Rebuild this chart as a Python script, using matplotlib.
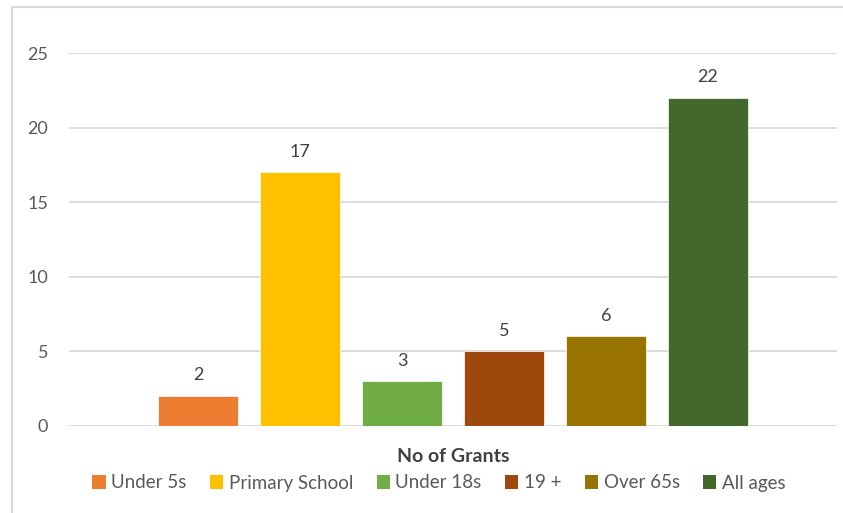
"""
No of Grants by age group: single-category clustered column chart,
office-style colours, value labels on top, legend underneath.
"""

import matplotlib
matplotlib.use("Agg")
import matplotlib.pyplot as plt
from matplotlib.patches import Rectangle, Patch

plt.rcParams.update({
    "font.family": ["Lato", "DejaVu Sans"],
    "font.size": 11,
})

groups = ["Under 5s", "Primary School", "Under 18s", "19 +", "Over 65s", "All ages"]
grants = [2, 17, 3, 5, 6, 22]
colors = ["#ED7D31", "#FFC000", "#70AD47", "#9E480E", "#997300", "#43682B"]
category = "No of Grants"
yticks = [0, 5, 10, 15, 20, 25]

W, H = 843, 513
fig = plt.figure(figsize=(W / 100, H / 100), dpi=100)

# light grey chart border, cut off at right/bottom like the screenshot
fig.patches.append(Rectangle((12 / W, -0.05), 1.2, 1 - 7 / H + 0.05,
                             transform=fig.transFigure, fill=False,
                             edgecolor="#D9D9D9", lw=1.5))

ax = fig.add_axes([69 / W, 87.3 / H, (837 - 69) / W, (425.7 - 53.3) / H])

xs = list(range(len(groups)))
bars = ax.bar(xs, grants, width=0.79, color=colors, edgecolor="white",
              linewidth=0.5, zorder=3)
for b, v in zip(bars, grants):
    ax.annotate(str(v), (b.get_x() + b.get_width() / 2, v),
                xytext=(0, 9), textcoords="offset points",
                ha="center", va="bottom", fontsize=13, color="#404040")

# cluster centred in the plot area
half = (837 - 69) / 2 / 102
ax.set_xlim(2.5 - half, 2.5 + half)
ax.set_ylim(0, 25)
ax.set_yticks(yticks)
ax.set_xticks([])
ax.yaxis.grid(True, color="#D9D9D9", lw=1.3, zorder=0)
ax.tick_params(axis="y", length=0, pad=15, labelsize=13, labelcolor="#595959")
for s in ax.spines.values():
    s.set_visible(False)

fig.text(453 / W, 1 - 457 / H, category, ha="center", va="center",
         fontsize=14, fontweight="bold", color="#404040")

handles = [Patch(facecolor=c, label=g) for c, g in zip(colors, groups)]
fig.legend(handles=handles, loc="center", bbox_to_anchor=(439 / W, 1 - 483 / H),
           ncol=len(groups), frameon=False, fontsize=13.5, handlelength=0.7,
           handleheight=0.7, handletextpad=0.3, columnspacing=1.25,
           labelcolor="#595959")

fig.savefig("out.png", dpi=100)
